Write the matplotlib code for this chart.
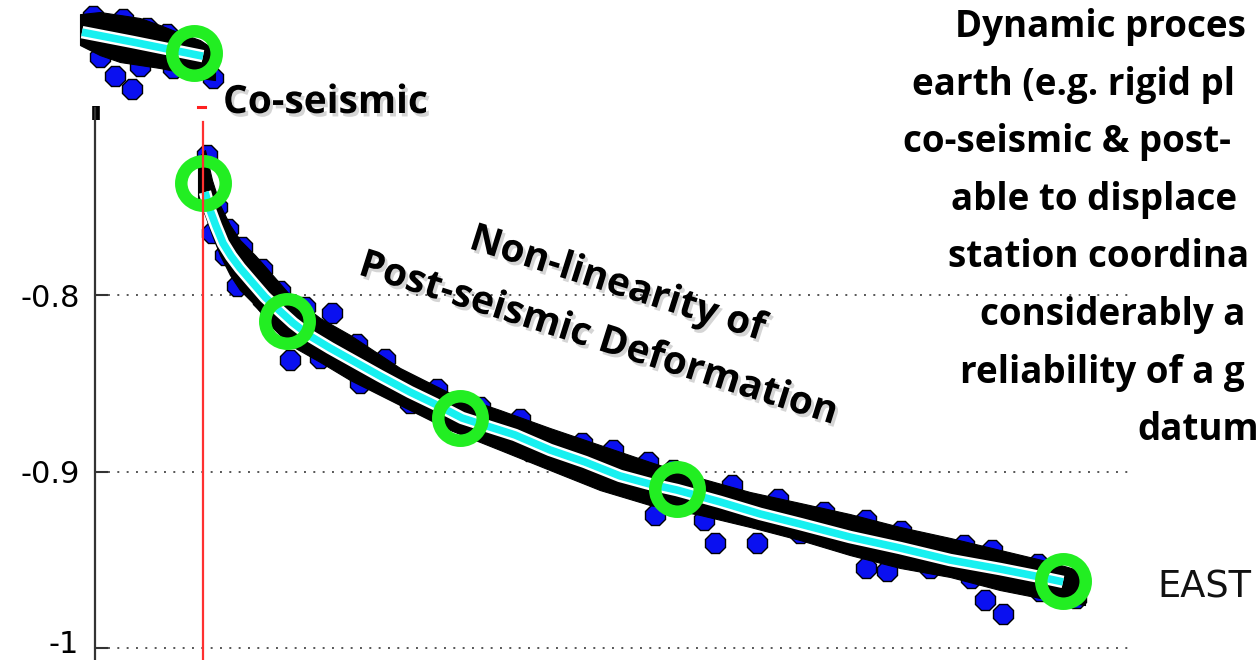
import matplotlib
matplotlib.use("Agg")
import matplotlib.pyplot as plt
import matplotlib.patheffects as pe

# east displacement (m) vs days relative to the earthquake

# pre-seismic segment (cropped piece at the top left)
pre_band_days = [-246, -206, -166, -126, -86, -46, -6, 24]
pre_band_top = [-0.6410, -0.6398, -0.6415, -0.6432, -0.6472, -0.6517, -0.6557, -0.6613]
pre_band_bot = [-0.6585, -0.6642, -0.6681, -0.6698, -0.6715, -0.6738, -0.6772, -0.6783]
pre_pts_days = [-220, -160, -112, -72, -206, -126, -60, 20, -176, -142]
pre_pts_east = [-0.6420, -0.6437, -0.6490, -0.6520, -0.6650, -0.6705, -0.6716, -0.6773, -0.6760, -0.6834]
pre_fit_days = [-242, -140, 0]
pre_fit_east = [-0.6512, -0.6568, -0.6648]
pre_mark_days = [-18]
pre_mark_east = [-0.6630]

# post-seismic daily solutions: envelope of the dense cloud
band_days = [-10, 4, 18, 34, 54, 74, 104, 134, 174, 234, 294, 394, 494, 594, 694,
             794, 894, 994, 1094, 1194, 1294, 1394, 1494, 1594, 1694, 1764]
band_top = [-0.7225, -0.7179, -0.7349, -0.7491, -0.7604, -0.7689, -0.7774, -0.7870,
            -0.8000, -0.8130, -0.8226, -0.8413, -0.8555, -0.8651, -0.8753, -0.8849,
            -0.8945, -0.9036, -0.9115, -0.9177, -0.9240, -0.9313, -0.9375, -0.9443,
            -0.9511, -0.9568]
band_bot = [-0.7462, -0.7547, -0.7660, -0.7774, -0.7887, -0.7972, -0.8057, -0.8170,
            -0.8283, -0.8379, -0.8481, -0.8623, -0.8764, -0.8877, -0.8991, -0.9104,
            -0.9189, -0.9245, -0.9313, -0.9387, -0.9472, -0.9545, -0.9596, -0.9670,
            -0.9726, -0.9755]

# individual solutions at the rim of the cloud and a few outliers
pts_days = [8, 28, 50, 78, 118, 154, 204, 258, 308, 364, 468, 554, 634, 758, 820,
            890, 940, 1058, 1150, 1242, 1326, 1396, 1522, 1578, 1670,
            18, 44, 68, 120, 174, 234, 314, 414, 534, 654, 774, 904, 1002, 1024,
            1108, 1194, 1326, 1368, 1454, 1536, 1564, 1600, 1674, 1746]
pts_east = [-0.7208, -0.7500, -0.7625, -0.7727, -0.7850, -0.7980, -0.8065, -0.8102,
            -0.8280, -0.8360, -0.8530, -0.8632, -0.8700, -0.8836, -0.8876, -0.8944,
            -0.8989, -0.9074, -0.9153, -0.9227, -0.9272, -0.9334, -0.9413, -0.9442,
            -0.9521,
            -0.7650, -0.7775, -0.7950, -0.8030, -0.8368, -0.8358, -0.8500, -0.8613,
            -0.8771, -0.8885, -0.8998, -0.9245, -0.9275, -0.9404, -0.9404, -0.9349,
            -0.9547, -0.9564, -0.9547, -0.9603, -0.9726, -0.9806, -0.9677, -0.9717]

# fitted post-seismic model
fit_days = [4, 14, 26, 40, 56, 74, 98, 124, 154, 180, 214, 254, 304, 354, 414, 464,
            518, 574, 624, 694, 764, 834, 894, 948, 1034, 1114, 1194, 1294, 1394,
            1494, 1594, 1674, 1720]
fit_east = [-0.7417, -0.7519, -0.7610, -0.7706, -0.7779, -0.7847, -0.7926, -0.8011,
            -0.8091, -0.8158, -0.8232, -0.8300, -0.8379, -0.8458, -0.8549, -0.8617,
            -0.8696, -0.8747, -0.8792, -0.8877, -0.8945, -0.9024, -0.9070, -0.9104,
            -0.9171, -0.9239, -0.9296, -0.9370, -0.9432, -0.9500, -0.9551, -0.9596,
            -0.9624]

mark_days = [0, 168, 514, 948, 1720]
mark_east = [-0.7366, -0.8147, -0.8696, -0.9098, -0.9619]

yticks = [-1.0, -0.9, -0.8]
ytick_labels = ["-1", "-0.9", "-0.8"]

W, H = 1260, 660


def px(x, y):
    return x / W, 1 - y / H


fig = plt.figure(figsize=(12.6, 6.6), dpi=100)
ax = fig.add_axes([0, 0, 1, 1])
ax.set_xlim(-406, 2114)
ax.set_ylim(-1.0066, -0.633)
ax.patch.set_alpha(0)

for s in ["top", "right", "bottom"]:
    ax.spines[s].set_visible(False)
ax.spines["left"].set_position(("data", -216))
ax.spines["left"].set_bounds(-1.0066, -0.6942)
ax.spines["left"].set_color("#333333")
ax.spines["left"].set_linewidth(1.6)
ax.set_xticks([])
ax.set_yticks(yticks)
# the lowest label sits on the bottom edge, so it is drawn by hand just above it
ax.set_yticklabels([""] + ytick_labels[1:], fontsize=22, family="DejaVu Sans")
ax.tick_params(axis="y", direction="in", length=9.5, width=1.5, color="#333333", pad=11)
ax.text(*px(79, 659), ytick_labels[0], fontsize=22, family="DejaVu Sans",
        ha="right", va="bottom", transform=ax.transAxes)
ax.plot([-214, -214], [-0.6930, -0.7009], color="black", lw=5.5, solid_capstyle="butt")

ax.hlines(yticks, -190, 1854, colors="#555555", linestyles=(0, (1, 3.8)), lw=1.4, zorder=1)

hex_kw = dict(marker="8", ms=16, mfc="#0a10f0", mec="black", mew=1.0, ls="none", zorder=2)
ax.plot(pre_pts_days, pre_pts_east, **hex_kw)
ax.plot(pts_days, pts_east, **hex_kw)
ax.fill_between(pre_band_days, pre_band_top, pre_band_bot, color="black", lw=0.8, zorder=3)
ax.fill_between(band_days, band_top, band_bot, color="black", lw=0.8, zorder=3)

for d, e in [(pre_fit_days, pre_fit_east), (fit_days, fit_east)]:
    ax.plot(d, e, color="white", lw=9, solid_capstyle="butt", zorder=4)
    ax.plot(d, e, color="#18f0f0", lw=5.5, solid_capstyle="butt", zorder=5)

ring_kw = dict(marker="o", ms=32, mfc="none", mec="#22ee22", mew=9, ls="none", zorder=6)
ax.plot(pre_mark_days, pre_mark_east, **ring_kw)
ax.plot(mark_days, mark_east, **ring_kw)

ax.axvline(0, ymin=0, ymax=1 - 122 / H, color="#ff3030", lw=1.6, zorder=7)
ax.plot([-10, 4], [-0.6936, -0.6936], color="#ff2020", lw=2.2, zorder=7)

shadow = [pe.SimplePatchShadow(offset=(2, -2.5), shadow_rgbFace="#888888", alpha=0.35), pe.Normal()]
slide_font = ["Open Sans", "DejaVu Sans"]
bold = dict(family=slide_font, fontweight="bold", color="black",
            transform=ax.transAxes, path_effects=shadow)

ax.text(*px(223, 113), "Co-seismic", fontsize=28, ha="left", va="baseline", **bold)
ax.text(*px(617, 284), "Non-linearity of", fontsize=28, rotation=-17.5,
        rotation_mode="anchor", ha="center", va="center", **bold)
ax.text(*px(598, 339), "Post-seismic Deformation", fontsize=28, rotation=-17.5,
        rotation_mode="anchor", ha="center", va="center", **bold)

side_lines = ["Dynamic proces", "earth (e.g. rigid pl", "co-seismic & post-",
              "able to displace", "station coordina", "considerably a",
              "reliability of a g", "datum"]
side_x = [955, 912, 903, 951, 948, 980, 960, 1137]
for i, (txt, x0) in enumerate(zip(side_lines, side_x)):
    ax.text(*px(x0, 37 + 57.6 * i), txt, fontsize=26.5, ha="left", va="baseline",
            family=slide_font, fontweight="bold", transform=ax.transAxes)

ax.text(*px(1157, 598), "EAST", fontsize=26.5, ha="left", va="baseline",
        family="DejaVu Sans", color="#111111", transform=ax.transAxes)

fig.savefig("out.png", dpi=100)
